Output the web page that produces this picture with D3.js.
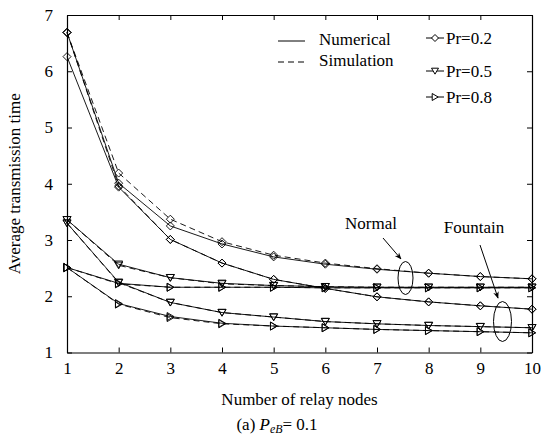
<!DOCTYPE html>
<html>
<head>
<meta charset="utf-8">
<script src="https://cdn.jsdelivr.net/npm/d3@7"></script>
<style>
  html, body { margin: 0; padding: 0; background: #fff; }
  svg text { font-family: "Liberation Serif", "Times New Roman", Times, "DejaVu Serif", serif; }
</style>
</head>
<body>
<svg id="chart" width="546" height="437"></svg>
<script>
// Number of relay nodes
const relayNodes = [1, 2, 3, 4, 5, 6, 7, 8, 9, 10];
const xTicks = [1, 2, 3, 4, 5, 6, 7, 8, 9, 10];
const yTicks = [1, 2, 3, 4, 5, 6, 7];

// Normal scheme, numerical / simulation
const normalPr02Num = [6.69, 4.01, 3.25, 2.93, 2.70, 2.57, 2.48, 2.41, 2.35, 2.31];
const normalPr02Sim = [6.69, 4.19, 3.37, 2.97, 2.73, 2.59, 2.49, 2.41, 2.35, 2.31];
const normalPr05Num = [3.36, 2.57, 2.33, 2.23, 2.19, 2.17, 2.16, 2.16, 2.16, 2.16];
const normalPr05Sim = [3.36, 2.55, 2.33, 2.22, 2.19, 2.17, 2.16, 2.16, 2.16, 2.16];
const normalPr08Num = [2.51, 2.23, 2.16, 2.16, 2.16, 2.15, 2.15, 2.15, 2.15, 2.15];
const normalPr08Sim = [2.51, 2.22, 2.16, 2.16, 2.16, 2.15, 2.15, 2.15, 2.15, 2.15];

// Fountain scheme, numerical / simulation
const fountainPr02Num = [6.26, 3.94, 3.01, 2.59, 2.30, 2.14, 1.99, 1.90, 1.83, 1.77];
const fountainPr02Sim = [6.69, 3.96, 3.01, 2.59, 2.30, 2.14, 1.99, 1.90, 1.83, 1.77];
const fountainPr05Num = [3.30, 2.25, 1.89, 1.71, 1.63, 1.55, 1.51, 1.48, 1.46, 1.44];
const fountainPr05Sim = [3.30, 2.24, 1.89, 1.71, 1.63, 1.55, 1.51, 1.48, 1.46, 1.44];
const fountainPr08Num = [2.51, 1.87, 1.64, 1.52, 1.47, 1.44, 1.41, 1.39, 1.37, 1.35];
const fountainPr08Sim = [2.51, 1.86, 1.62, 1.51, 1.47, 1.44, 1.41, 1.39, 1.37, 1.35];

const prLabels = ["Pr=0.2", "Pr=0.5", "Pr=0.8"];
const methodLabels = ["Numerical", "Simulation"];

const series = [
  { values: normalPr02Num, marker: "diamond", dashed: false },
  { values: normalPr02Sim, marker: "diamond", dashed: true },
  { values: normalPr05Num, marker: "down", dashed: false },
  { values: normalPr05Sim, marker: "down", dashed: true },
  { values: normalPr08Num, marker: "right", dashed: false },
  { values: normalPr08Sim, marker: "right", dashed: true },
  { values: fountainPr02Num, marker: "diamond", dashed: false },
  { values: fountainPr02Sim, marker: "diamond", dashed: true },
  { values: fountainPr05Num, marker: "down", dashed: false },
  { values: fountainPr05Sim, marker: "down", dashed: true },
  { values: fountainPr08Num, marker: "right", dashed: false },
  { values: fountainPr08Sim, marker: "right", dashed: true }
];

const FONT = "Liberation Serif, Times New Roman, Times, DejaVu Serif, serif";
const svg = d3.select("#chart").attr("font-family", FONT);
const margin = { left: 67, right: 14, top: 15, bottom: 84.5 };
const W = 546, H = 437;
const x = d3.scaleLinear().domain([1, 10]).range([margin.left, W - margin.right]);
const y = d3.scaleLinear().domain([1, 7]).range([H - margin.bottom, margin.top]);

const fontSize = 17;

// Marker shapes
function markerPath(type, s) {
  if (type === "diamond") return `M0,${-s}L${s},0L0,${s}L${-s},0Z`;
  if (type === "down") return `M${-s},${-s * 0.8}L${s},${-s * 0.8}L0,${s * 0.9}Z`;
  return `M${-s * 0.8},${-s}L${s * 0.9},0L${-s * 0.8},${s}Z`;
}

// Frame with inward ticks on all four sides
const axisG = svg.append("g");
axisG.append("g").attr("transform", `translate(0,${y(1)})`)
  .call(d3.axisBottom(x).tickValues(xTicks).tickSizeInner(-5).tickSizeOuter(0).tickPadding(9).tickFormat(d3.format("d")));
axisG.append("g").attr("transform", `translate(0,${y(7)})`)
  .call(d3.axisTop(x).tickValues(xTicks).tickSizeInner(-5).tickSizeOuter(0).tickFormat(""));
axisG.append("g").attr("transform", `translate(${x(1)},0)`)
  .call(d3.axisLeft(y).tickValues(yTicks).tickSizeInner(-5).tickSizeOuter(0).tickPadding(14).tickFormat(d3.format("d")));
axisG.append("g").attr("transform", `translate(${x(10)},0)`)
  .call(d3.axisRight(y).tickValues(yTicks).tickSizeInner(-5).tickSizeOuter(0).tickFormat(""));
axisG.selectAll("g").attr("font-family", FONT).attr("font-size", fontSize);
axisG.selectAll(".domain").attr("stroke", "#000").attr("stroke-width", 1.2);
axisG.selectAll(".tick line").attr("stroke", "#000");
axisG.selectAll("text").attr("fill", "#000");

// Curves
const line = d3.line().x((d, i) => x(relayNodes[i])).y(d => y(d));
const plot = svg.append("g");
series.forEach(s => {
  plot.append("path")
    .attr("d", line(s.values))
    .attr("fill", "none")
    .attr("stroke", "#000")
    .attr("stroke-width", 0.9)
    .attr("stroke-dasharray", s.dashed ? "6,4" : null);
  plot.selectAll(null).data(s.values).enter().append("path")
    .attr("transform", (d, i) => `translate(${x(relayNodes[i])},${y(d)})`)
    .attr("d", markerPath(s.marker, 4))
    .attr("fill", "none")
    .attr("stroke", "#000")
    .attr("stroke-width", 0.9);
});

// Legend: line styles
const legA = svg.append("g");
[{ label: methodLabels[0], yy: 41, dash: null }, { label: methodLabels[1], yy: 62, dash: "6,4" }].forEach(d => {
  legA.append("line").attr("x1", 278).attr("x2", 305).attr("y1", d.yy).attr("y2", d.yy)
    .attr("stroke", "#000").attr("stroke-dasharray", d.dash);
  legA.append("text").attr("x", 319).attr("y", d.yy + 4).attr("font-size", fontSize).text(d.label);
});

// Legend: markers
const legB = svg.append("g");
[{ label: prLabels[0], yy: 38, m: "diamond" }, { label: prLabels[1], yy: 71, m: "down" }, { label: prLabels[2], yy: 97, m: "right" }].forEach(d => {
  legB.append("line").attr("x1", 426).attr("x2", 444).attr("y1", d.yy).attr("y2", d.yy).attr("stroke", "#000");
  legB.append("path").attr("transform", `translate(435,${d.yy})`).attr("d", markerPath(d.m, 3.5))
    .attr("fill", "#fff").attr("stroke", "#000");
  legB.append("text").attr("x", 446).attr("y", d.yy + 6).attr("font-size", fontSize).text(d.label);
});

// Annotations
const ann = svg.append("g").attr("stroke", "#000").attr("fill", "none");
svg.append("defs").append("marker").attr("id", "arrow").attr("viewBox", "0 0 10 10")
  .attr("refX", 9).attr("refY", 5).attr("markerWidth", 7).attr("markerHeight", 7).attr("orient", "auto")
  .append("path").attr("d", "M0,1L10,5L0,9L3,5Z").attr("fill", "#000");
ann.append("ellipse").attr("cx", 405.5).attr("cy", 278).attr("rx", 7.5).attr("ry", 16.5);
ann.append("ellipse").attr("cx", 502.5).attr("cy", 321.5).attr("rx", 9).attr("ry", 20);
ann.append("line").attr("x1", 383).attr("y1", 238).attr("x2", 401).attr("y2", 259).attr("marker-end", "url(#arrow)");
ann.append("line").attr("x1", 480).attr("y1", 245).attr("x2", 498).attr("y2", 298).attr("marker-end", "url(#arrow)");
svg.append("text").attr("x", 371).attr("y", 229).attr("text-anchor", "middle").attr("font-size", fontSize).text("Normal");
svg.append("text").attr("x", 474).attr("y", 233).attr("text-anchor", "middle").attr("font-size", fontSize).text("Fountain");

// Axis titles
svg.append("text").attr("x", (x(1) + x(10)) / 2).attr("y", 405).attr("text-anchor", "middle")
  .attr("font-size", fontSize).text("Number of relay nodes");
svg.append("text").attr("transform", `translate(20,${(y(1) + y(7)) / 2}) rotate(-90)`).attr("text-anchor", "middle")
  .attr("font-size", fontSize).text("Average transmission time");

// Caption
const cap = svg.append("text").attr("x", 277).attr("y", 430).attr("text-anchor", "middle").attr("font-size", fontSize);
cap.append("tspan").text("(a) ");
cap.append("tspan").attr("font-style", "italic").text("P");
cap.append("tspan").attr("font-style", "italic").attr("font-size", fontSize * 0.7).attr("dy", 3).text("eB");
cap.append("tspan").attr("dy", -3).text("= 0.1");
</script>
</body>
</html>
